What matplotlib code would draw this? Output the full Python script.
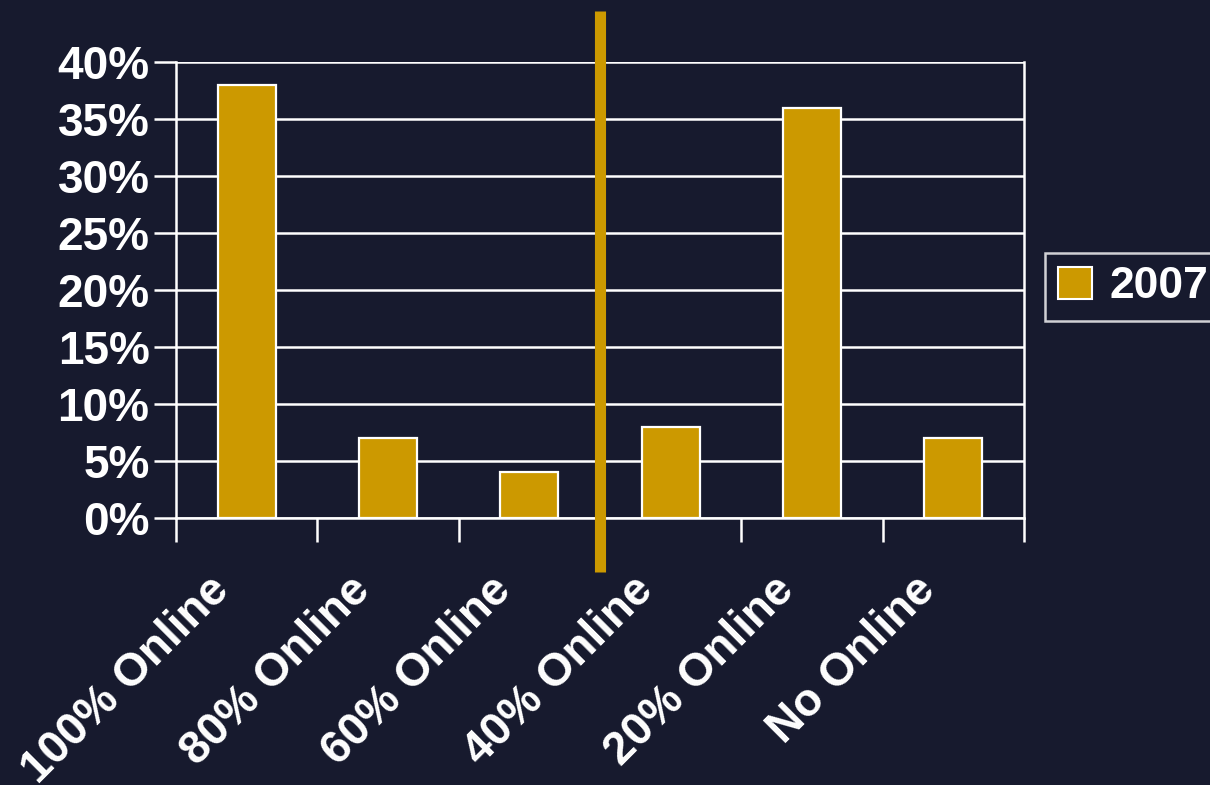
import matplotlib
matplotlib.use("Agg")
import matplotlib.pyplot as plt
import matplotlib.transforms as mtransforms
from matplotlib.patches import Rectangle

categories = ["100% Online", "80% Online", "60% Online", "40% Online", "20% Online", "No Online"]
values_2007 = [38, 7, 4, 8, 36, 7]
yticks = [0, 5, 10, 15, 20, 25, 30, 35, 40]
series_name = "2007"

BG = "#171a2e"
GOLD = "#cc9900"
plt.rcParams['font.family'] = ['Liberation Sans', 'DejaVu Sans']

fig = plt.figure(figsize=(12.10, 7.85), dpi=100, facecolor=BG)
W, H = 1210, 785
ax = fig.add_axes([176 / W, 1 - 518 / H, (1024 - 176) / W, (518 - 62) / H])
ax.set_facecolor(BG)

x = list(range(len(categories)))
ax.bar(x, values_2007, width=0.41, color=GOLD, edgecolor="white", linewidth=1.6, zorder=3)

ax.set_xlim(-0.5, len(categories) - 0.5)
ax.set_ylim(0, 40)
ax.set_yticks(yticks)
ax.set_yticklabels([f"{v}%" for v in yticks])
ax.yaxis.grid(True, color="white", linewidth=1.8, zorder=1)
ax.set_axisbelow(True)

ax.set_xticks([i - 0.5 for i in range(len(categories) + 1)])
ax.set_xticklabels([])
ax.set_xticks(x, minor=True)
ax.set_xticklabels(categories, minor=True, rotation=45, ha="right", va="top",
                   rotation_mode="anchor", fontsize=33, fontweight="bold", color="white")
ax.tick_params(axis="x", which="minor", length=0, pad=36)
ax.tick_params(axis="x", which="major", length=17, width=1.8, color="white", direction="out")
ax.tick_params(axis="y", length=16, width=1.8, color="white", direction="out",
               labelsize=33, labelcolor="white", pad=3)
for lab in ax.get_yticklabels():
    lab.set_fontweight("bold")
shift = mtransforms.ScaledTranslation(-40 / 100, 0, fig.dpi_scale_trans)
for lab in ax.get_xticklabels(minor=True):
    lab.set_transform(lab.get_transform() + shift)

for s in ["left", "right", "bottom", "top"]:
    ax.spines[s].set_color("white")
    ax.spines[s].set_linewidth(1.8)
ax.spines["top"].set_visible(False)

# vertical divider between 60% and 40%
ax.axvline(2.5, ymin=(518 - 572) / 456, ymax=(518 - 11) / 456, color=GOLD, linewidth=8,
           clip_on=False, zorder=5, solid_capstyle="butt")

handle = Rectangle((0, 0), 1, 1, facecolor=GOLD, edgecolor="white", linewidth=1.5)
leg = fig.legend([handle], [series_name], loc="upper left",
                 bbox_to_anchor=(1045 / W, 1 - 253 / H), frameon=True,
                 prop={"size": 32, "weight": "bold"}, handlelength=0.75, handleheight=0.75,
                 handletextpad=0.4, borderpad=0.3, borderaxespad=0, fancybox=False)
leg.get_frame().set_facecolor(BG)
leg.get_frame().set_edgecolor("white")
leg.get_frame().set_linewidth(1.8)
for t in leg.get_texts():
    t.set_color("white")

fig.savefig("out.png", dpi=100, facecolor=BG)
